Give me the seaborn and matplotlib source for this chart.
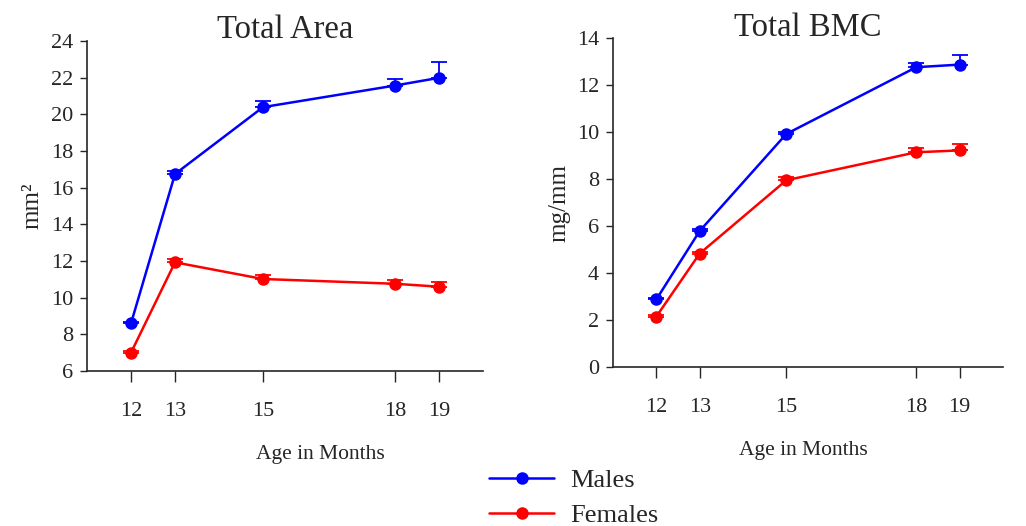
import matplotlib
matplotlib.use("Agg")
import matplotlib.pyplot as plt
import seaborn as sns
import pandas as pd
import numpy as np

# ages (months)
ages = [12, 13, 15, 18, 19]

# Total Area (mm^2), mean and upper SEM
area_males = [8.6, 16.75, 20.4, 21.58, 22.0]
area_males_err = [0.1, 0.15, 0.33, 0.37, 0.84]
area_females = [7.0, 11.93, 11.02, 10.76, 10.6]
area_females_err = [0.1, 0.2, 0.2, 0.2, 0.24]

# Total BMC (mg/mm)
bmc_males = [2.89, 5.8, 9.93, 12.77, 12.88]
bmc_males_err = [0.07, 0.07, 0.1, 0.17, 0.4]
bmc_females = [2.16, 4.84, 7.96, 9.15, 9.23]
bmc_females_err = [0.07, 0.08, 0.13, 0.17, 0.27]

colors = {"Males": "blue", "Females": "red"}

sns.set_style("ticks")
plt.rcParams["font.family"] = ["Liberation Serif", "DejaVu Serif"]

fig = plt.figure(figsize=(10.26, 5.26), dpi=100)
ax1 = fig.add_axes([0.0848, 0.2947, 0.386, 0.627])
ax2 = fig.add_axes([0.5975, 0.3017, 0.380, 0.6255])


def draw_panel(ax, males, males_err, females, females_err, title, ylabel, ylim, yticks, xlab_x):
    df = pd.DataFrame({
        "age": ages * 2,
        "value": males + females,
        "sex": ["Males"] * len(ages) + ["Females"] * len(ages),
    })
    # upper-only error bars with caps
    for vals, errs, sex in [(males, males_err, "Males"), (females, females_err, "Females")]:
        ax.errorbar(ages, vals, yerr=[np.zeros(len(errs)), errs], fmt="none",
                    ecolor=colors[sex], elinewidth=1.3, capsize=6, capthick=1.3, zorder=2)
    sns.lineplot(data=df, x="age", y="value", hue="sex", palette=colors, marker="o",
                 markersize=9, markeredgewidth=0, linewidth=1.8, ax=ax, legend=False, zorder=3)
    ax.set_xlim(11, 20)
    ax.set_ylim(*ylim)
    ax.set_xticks(ages)
    ax.set_yticks(yticks)
    ax.tick_params(axis="x", length=8, width=1, pad=14, labelsize=16, direction="out")
    ax.tick_params(axis="y", length=5, width=1, pad=5, labelsize=16, direction="out")
    ax.set_title(title, fontsize=23.5, y=1.0, pad=2)
    ax.set_xlabel("Age in Months", fontsize=15.5)
    ax.xaxis.set_label_coords(xlab_x, -0.225)
    ax.set_ylabel(ylabel, fontsize=18)
    ax.yaxis.set_label_coords(-0.11, 0.5)
    sns.despine(ax=ax)
    for s in ["left", "bottom"]:
        ax.spines[s].set_linewidth(1.2)


draw_panel(ax1, area_males, area_males_err, area_females, area_females_err,
           "Total Area", "mm²", (6, 24), range(6, 25, 2), 0.59)
draw_panel(ax2, bmc_males, bmc_males_err, bmc_females, bmc_females_err,
           "Total BMC", "mg/mm", (0, 14), range(0, 15, 2), 0.487)

handles = [plt.Line2D([], [], color=colors[s], marker="o", markersize=9,
                      markeredgewidth=0, linewidth=1.8) for s in ["Males", "Females"]]
fig.legend(handles, ["Males", "Females"], loc="upper left",
           bbox_to_anchor=(0.464, 0.134), frameon=False, fontsize=19,
           handlelength=2.45, handletextpad=0.6, labelspacing=0.42, borderpad=0)

fig.savefig("out.png", dpi=100)
